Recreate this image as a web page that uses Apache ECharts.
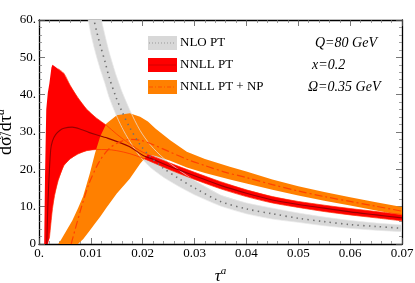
<!DOCTYPE html>
<html>
<head>
<meta charset="utf-8">
<script src="https://cdn.jsdelivr.net/npm/echarts@6/dist/echarts.min.js"></script>
<style>
html,body{margin:0;padding:0;background:#fff;}
#chart{width:415px;height:283px;}
</style>
</head>
<body>
<div id="chart"></div>
<script>
// ---------- data ----------
const xTickLabels = ['0.', '0.01', '0.02', '0.03', '0.04', '0.05', '0.06', '0.07'];
const yTickLabels = ['0', '10.', '20.', '30.', '40.', '50.', '60.'];
const legendNames = ['NLO PT', 'NNLL PT', 'NNLL PT + NP'];
const annotations = ['Q=80 GeV', 'x=0.2', 'Ω=0.35 GeV'];

// NLO PT band (gray) and central value (dotted)
const tauNLO  = [0.0085, 0.009, 0.0095, 0.010, 0.0106, 0.0112, 0.0118, 0.0127, 0.0135, 0.0148, 0.016, 0.0175, 0.0195, 0.0215, 0.024, 0.027, 0.030, 0.035, 0.040, 0.045, 0.050, 0.055, 0.060, 0.065, 0.070];
const nloLow  = [70, 64, 60, 56.3, 52.8, 49.7, 46.9, 43.1, 39.4, 34.8, 31.2, 27.5, 23.4, 20.5, 17.9, 15.4, 13.2, 10.2, 8.1, 6.7, 5.8, 4.9, 4.2, 3.7, 3.3];
const nloMid  = [80, 73, 68, 64, 60, 56.5, 53.3, 49, 44.8, 39.5, 35.5, 31.2, 26.6, 23.3, 20.3, 17.5, 15.0, 11.4, 9.4, 8.1, 6.9, 6.0, 5.2, 4.7, 4.2];
const nloHigh = [92, 84, 78, 73.5, 69, 65, 61.3, 56, 51.5, 45.5, 40.8, 35.9, 30.4, 26.5, 23.0, 19.8, 17.0, 13.1, 11.0, 9.6, 8.3, 7.2, 6.3, 5.6, 5.1];

// NNLL PT band (red)
const tauNNLL  = [0.0010, 0.00116, 0.0014, 0.0017, 0.0020, 0.0024, 0.0026, 0.0030, 0.0037, 0.0048, 0.0060, 0.0075, 0.0092, 0.0111, 0.0130, 0.0150, 0.0175, 0.0200, 0.0225, 0.025, 0.030, 0.035, 0.040, 0.045, 0.050, 0.055, 0.060, 0.065, 0.070];
const nnllHigh = [0, 18, 36, 40.5, 43, 47.3, 48, 47.6, 46.9, 45.7, 42.5, 39.2, 36.1, 33.7, 31.8, 29.4, 26.8, 24.6, 23.2, 21.8, 19.2, 16.7, 14.5, 12.7, 11.4, 10.4, 9.5, 8.7, 7.9];
const nnllLow  = [0, 0, 0, 0, 1.5, 7, 9.5, 13, 17, 21, 22.8, 24.1, 25, 25.3, 25.3, 25.0, 24.2, 23.0, 21.5, 20.0, 17.3, 14.8, 12.7, 11.0, 9.8, 8.7, 7.8, 7.0, 6.2];
// NNLL PT central value (dark red)
const tauNNLLMid = [0.0015, 0.0018, 0.00225, 0.0026, 0.0032, 0.0040, 0.0048, 0.0064, 0.0083, 0.0096, 0.0129, 0.0174, 0.0200, 0.0225, 0.025, 0.030, 0.035, 0.040, 0.045, 0.050, 0.055, 0.060, 0.065, 0.070];
const nnllMid    = [0, 13.6, 25.2, 27.6, 29.3, 30.4, 31.0, 31.3, 30.6, 29.9, 28.5, 26.1, 23.8, 22.4, 20.9, 18.3, 15.7, 13.6, 11.8, 10.6, 9.6, 8.6, 7.8, 7.0];

// NNLL PT + NP band (orange)
const tauNP  = [0.0037, 0.0042, 0.0064, 0.0075, 0.0085, 0.0098, 0.0108, 0.0118, 0.0130, 0.0150, 0.0175, 0.0195, 0.0210, 0.0225, 0.0253, 0.0285, 0.032, 0.0368, 0.040, 0.045, 0.050, 0.055, 0.060, 0.065, 0.070];
const npHigh = [0, 1, 6.2, 9.5, 12.7, 18.9, 24.3, 28.8, 32.3, 34.5, 35.0, 34.1, 32.8, 30.9, 27.8, 24.7, 22.8, 20.7, 19.4, 17.3, 15.5, 13.9, 12.5, 11.2, 9.9];
const npLow  = [0, 0, 0, 0, 1.3, 3.6, 5.5, 7.3, 9.7, 13.5, 17.5, 21.5, 24.0, 23.6, 22.3, 20.5, 19.0, 17.3, 16.2, 14.5, 13.0, 11.6, 10.3, 9.0, 7.7];
// NNLL PT + NP central value (dash-dot)
const tauNPMid = [0.0062, 0.008, 0.0096, 0.0116, 0.0135, 0.0155, 0.0175, 0.0195, 0.022, 0.025, 0.0285, 0.032, 0.036, 0.040, 0.045, 0.050, 0.055, 0.060, 0.065, 0.070];
const npMid    = [0, 9, 16, 22, 25.5, 27.3, 28, 27.8, 26.6, 24.8, 22.7, 21.0, 19.2, 17.8, 15.9, 14.2, 12.7, 11.4, 10.1, 8.8];

// ---------- helpers ----------
const pairs = (xs, ys) => xs.map((x, i) => [x, ys[i]]);
function band(name, tau, low, high, color, z) {
  return {
    name: name, type: 'custom', z: z, clip: true, silent: true,
    itemStyle: {color: color},
    data: [[tau[0], low[0]]],
    renderItem: function (params, api) {
      const pts = [];
      for (let i = 0; i < tau.length; i++) pts.push(api.coord([tau[i], high[i]]));
      for (let i = tau.length - 1; i >= 0; i--) pts.push(api.coord([tau[i], low[i]]));
      return {type: 'polygon', shape: {points: pts}, style: {fill: color, stroke: null}};
    }
  };
}
function line(name, tau, vals, color, width, type, z) {
  return {
    name: name, type: 'line', z: z, clip: true, silent: true, smooth: 0.3,
    symbol: 'none', data: pairs(tau, vals),
    lineStyle: {color: color, width: width, type: type}
  };
}

const SERIF = '"Liberation Serif", "DejaVu Serif", serif';
const chart = echarts.init(document.getElementById('chart'), null, {renderer: 'canvas'});

const commonX = {
  type: 'value', min: 0, max: 0.07, interval: 0.01,
  axisLine: {show: true, onZero: false, lineStyle: {color: '#000', width: 1.3}},
  axisTick: {show: true, inside: true, length: 6, lineStyle: {color: '#555', width: 0.8}},
  minorTick: {show: true, splitNumber: 5, length: 3, lineStyle: {color: '#777', width: 0.7}},
  splitLine: {show: false}
};
const commonY = {
  type: 'value', min: 0, max: 60, interval: 10,
  axisLine: {show: true, onZero: false, lineStyle: {color: '#000', width: 1.3}},
  axisTick: {show: true, inside: true, length: 6, lineStyle: {color: '#555', width: 0.8}},
  minorTick: {show: true, splitNumber: 5, length: 3, lineStyle: {color: '#777', width: 0.7}},
  splitLine: {show: false}
};

const option = {
  animation: false,
  backgroundColor: '#fff',
  grid: {left: 39, right: 13, top: 20, bottom: 39, containLabel: false, outerBoundsMode: 'none'},
  xAxis: [
    Object.assign({}, commonX, {
      position: 'bottom',
      axisLabel: {
        margin: 3, color: '#000', fontFamily: SERIF, fontSize: 13,
        formatter: v => xTickLabels[Math.round(v / 0.01)]
      },
      name: '{n|τ}{s|a}', nameLocation: 'middle', nameGap: 22, nameMoveOverlap: false,
      nameTextStyle: {
        rich: {
          n: {fontFamily: SERIF, fontStyle: 'italic', fontSize: 17, color: '#000'},
          s: {fontFamily: SERIF, fontStyle: 'italic', fontSize: 11, color: '#000', padding: [0, 0, 10, 0]}
        }
      }
    }),
    Object.assign({}, commonX, {position: 'top', axisLabel: {show: false}})
  ],
  yAxis: [
    Object.assign({}, commonY, {
      position: 'left',
      axisLabel: {
        margin: 3, color: '#000', fontFamily: SERIF, fontSize: 13,
        formatter: v => yTickLabels[Math.round(v / 10)]
      },
      name: '{n|dσ̂/dτ}{s|a}', nameLocation: 'middle', nameGap: 21, nameMoveOverlap: false,
      nameTextStyle: {
        rich: {
          n: {fontFamily: SERIF, fontSize: 18, color: '#000'},
          s: {fontFamily: SERIF, fontStyle: 'italic', fontSize: 12, color: '#000', padding: [0, 0, 11, 0]}
        }
      }
    }),
    Object.assign({}, commonY, {position: 'right', axisLabel: {show: false}})
  ],
  legend: {
    data: legendNames, orient: 'vertical', left: 143, top: 31,
    itemWidth: 29, itemHeight: 14, itemGap: 8, icon: 'rect',
    selectedMode: false,
    textStyle: {fontFamily: SERIF, fontSize: 13, color: '#000', padding: [0, 0, 0, -2]}
  },
  graphic: [
    {type: 'text', left: 315, top: 36, silent: true,
     style: {text: annotations[0], fontFamily: SERIF, fontStyle: 'italic', fontSize: 14, fill: '#000'}},
    {type: 'text', left: 312, top: 58, silent: true,
     style: {text: annotations[1], fontFamily: SERIF, fontStyle: 'italic', fontSize: 14, fill: '#000'}},
    {type: 'text', left: 308, top: 80, silent: true,
     style: {text: annotations[2], fontFamily: SERIF, fontStyle: 'italic', fontSize: 14, fill: '#000'}},
    // centre-line marks inside the legend swatches
    {type: 'line', silent: true, z: 100, shape: {x1: 149, y1: 43, x2: 176, y2: 43},
     style: {stroke: '#999', lineWidth: 1, lineDash: [1, 2]}},
    {type: 'line', silent: true, z: 100, shape: {x1: 149, y1: 65, x2: 176, y2: 65},
     style: {stroke: '#cc0000', lineWidth: 0.8}},
    {type: 'line', silent: true, z: 100, shape: {x1: 149, y1: 87, x2: 176, y2: 87},
     style: {stroke: '#ff4400', lineWidth: 0.8, lineDash: [4, 2, 1, 2]}}
  ],
  series: [
    band(legendNames[0], tauNLO, nloLow, nloHigh, '#d8d8d8', 1),
    band(legendNames[1], tauNNLL, nnllLow, nnllHigh, '#ff0000', 2),
    band(legendNames[2], tauNP, npLow, npHigh, '#ff8000', 3),
    // thin band edges drawn over the fills
    line('nlo-lo', tauNLO, nloLow, '#e8e8e8', 0.7, 'solid', 4),
    line('nlo-hi', tauNLO, nloHigh, '#e8e8e8', 0.7, 'solid', 4),
    line('nnll-lo', tauNNLL.slice(4), nnllLow.slice(4), '#ff2a00', 0.7, 'solid', 4),
    line('nnll-hi', tauNNLL.slice(8), nnllHigh.slice(8), '#ff2a00', 0.7, 'solid', 4),
    // central values
    line('nnll-mid', tauNNLLMid, nnllMid, '#990000', 1.1, 'solid', 5),
    line('np-mid', tauNPMid, npMid, '#ff4000', 1.2, [8, 3, 2, 3], 5),
    line('nlo-mid', tauNLO, nloMid, '#707070', 1.6, [1.4, 4.2], 6)
  ]
};
chart.setOption(option);
</script>
</body>
</html>
